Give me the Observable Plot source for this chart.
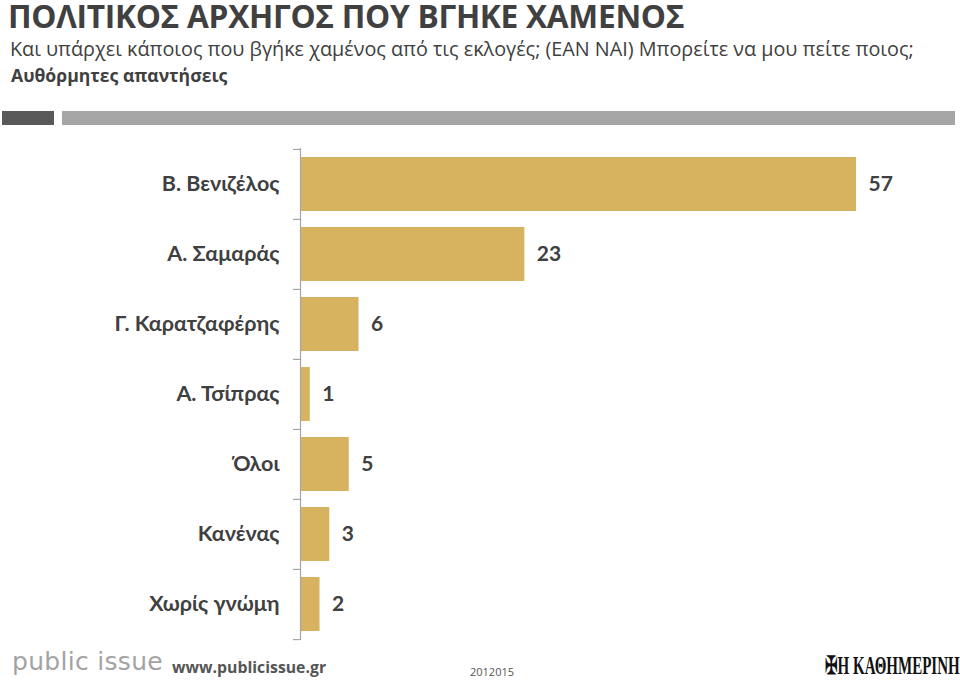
<!DOCTYPE html>
<html><head><meta charset="utf-8">
<script src="https://cdn.jsdelivr.net/npm/d3@7"></script>
<script src="https://cdn.jsdelivr.net/npm/@observablehq/plot@0.6"></script>
<style>
body{margin:0;background:#fff;}
#wrap{position:relative;width:960px;height:682px;overflow:hidden;font-family:"Open Sans",sans-serif;color:#404040;}
.abs{position:absolute;white-space:nowrap;}
#title{left:8px;top:-1px;font-size:31.7px;line-height:34px;font-weight:bold;letter-spacing:-0.3px;}
#sub1{left:10px;top:35px;font-size:19.8px;}
#sub2{left:11px;top:63px;font-size:17.6px;font-weight:bold;}
#bar1{left:2px;top:111px;width:52px;height:14px;background:#595959;}
#bar2{left:62px;top:111px;width:893px;height:14px;background:#a6a6a6;}
#chart{position:absolute;left:0;top:140px;}
#logo{left:12px;top:647px;font-size:25px;color:#a3a3a3;font-family:"DejaVu Sans",sans-serif;letter-spacing:0.3px;}
#www{left:172px;top:656px;font-size:15.8px;font-weight:bold;color:#555;}
#code{left:470px;top:664px;font-size:11px;color:#555;}
#kath{left:825px;top:652px;font-size:25px;line-height:28px;font-weight:bold;color:#111;font-family:"Liberation Serif",serif;transform:scaleX(0.6);transform-origin:left top;}
</style></head>
<body><div id="wrap">
<div class="abs" id="title">ΠΟΛΙΤΙΚΟΣ ΑΡΧΗΓΟΣ ΠΟΥ ΒΓΗΚΕ ΧΑΜΕΝΟΣ</div>
<div class="abs" id="sub1">Και υπάρχει κάποιος που βγήκε χαμένος από τις εκλογές; (ΕΑΝ ΝΑΙ) Μπορείτε να μου πείτε ποιος;</div>
<div class="abs" id="sub2">Αυθόρμητες απαντήσεις</div>
<div class="abs" id="bar1"></div><div class="abs" id="bar2"></div>
<div id="chart"></div>
<div class="abs" id="logo">public issue</div>
<div class="abs" id="www">www.publicissue.gr</div>
<div class="abs" id="code">2012015</div>
<div class="abs" id="kath">✠Η ΚΑΘΗΜΕΡΙΝΗ</div>
</div>
<script>
const categories = ["Β. Βενιζέλος","Α. Σαμαράς","Γ. Καρατζαφέρης","Α. Τσίπρας","Όλοι","Κανένας","Χωρίς γνώμη"];
const values = [57, 23, 6, 1, 5, 3, 2];
const data = categories.map((c,i)=>({cat:c, v:values[i]}));

const W = 960, H = 505, mt = 8, mb = 5;
const pIn = 0.23, pOut = 0.12;
const step = (H - mt - mb) / (categories.length - pIn + 2*pOut);

const plot = Plot.plot({
  width: W, height: H,
  marginLeft: 300, marginRight: 104, marginTop: mt, marginBottom: mb,
  style: {fontFamily: "Lato, 'Open Sans', sans-serif", background: "transparent"},
  x: {domain: [0, 57], axis: null},
  y: {domain: categories, paddingInner: pIn, paddingOuter: pOut, label: null},
  marks: [
    Plot.barX(data, {x: "v", y: "cat", fill: "#d8b35f"}),
    Plot.ruleX([0], {stroke: "#a6a6a6", strokeWidth: 1.2}),
    Plot.ruleY(categories, {y: d => d, x1: -0.72, x2: 0, dy: -step/2, stroke: "#a6a6a6", strokeWidth: 1.2}),
    Plot.ruleY([categories[categories.length-1]], {y: d => d, x1: -0.72, x2: 0, dy: step/2, stroke: "#a6a6a6", strokeWidth: 1.2}),
    Plot.text(data, {x: "v", y: "cat", text: d => String(d.v), dx: 12, textAnchor: "start", fontSize: 21, fontWeight: "bold", fill: "#404040"}),
    Plot.axisY({tickSize: 0, tickPadding: 21, fontSize: 21.5, fontWeight: "bold", fill: "#404040"})
  ]
});
document.getElementById("chart").appendChild(plot);
</script>
</body></html>
